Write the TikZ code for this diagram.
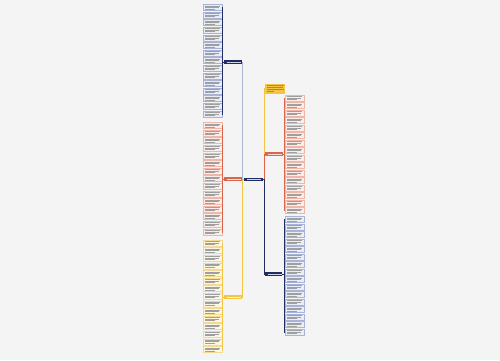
\documentclass[tikz,border=0pt]{standalone}
\usetikzlibrary{positioning}
\definecolor{navy}{HTML}{1F2D62}
\definecolor{bluefill}{HTML}{E8ECF6}
\definecolor{blueline}{HTML}{A9B3D6}
\definecolor{redmain}{HTML}{D9654A}
\definecolor{redfill}{HTML}{FCEBE6}
\definecolor{redline}{HTML}{EFB7AA}
\definecolor{yelmain}{HTML}{F4C443}
\definecolor{yelfill}{HTML}{FDF7E1}
\definecolor{yelline}{HTML}{F3DA92}
\definecolor{bgcol}{HTML}{F4F4F4}
\tikzset{
  leaf/.style={minimum width=0.38cm, minimum height=0.12cm, inner sep=0pt, line width=0.25pt,
    path picture={\foreach \k/\w in {1/0.92,2/0.85,3/0.6}
      {\draw[gray!75, line width=0.4pt] ([xshift=1pt,yshift=-\k*0.85pt]path picture bounding box.north west) -- ++(\w*0.33cm,0);}}},
  bleaf/.style={leaf, draw=blueline, fill=bluefill},
  rleaf/.style={leaf, draw=redline, fill=redfill},
  yleaf/.style={leaf, draw=yelline, fill=yelfill},
  branch/.style={minimum width=0.36cm, minimum height=0.065cm, inner sep=0pt, fill=#1,
    path picture={\draw[white!80!#1, line width=0.35pt] ([xshift=1.5pt]path picture bounding box.west) -- ++(0.28cm,0);}},
  tie/.style={line width=0.4pt}
}
\begin{document}
\begin{tikzpicture}[x=0.02cm,y=-0.02cm]
\useasboundingbox[fill=bgcol] (0,0) rectangle (500,360);
% root
\node[branch=navy, minimum width=0.38cm, minimum height=0.07cm] (root) at (253.5,179.5) {};
% main branches
\node[branch=navy] (lbl) at (233,62) {};
\node[branch=redmain] (lrd) at (233,179) {};
\node[branch=yelmain] (lyl) at (233,297) {};
\node[branch=redmain] (rrd) at (274,154) {};
\node[branch=navy, minimum width=0.34cm] (rbl) at (273.5,274) {};
\node[fill=yelmain, minimum width=0.40cm, minimum height=0.2cm, inner sep=0pt,
  path picture={\foreach \k/\w in {1/0.95,2/0.9,3/0.95,4/0.4}
    {\draw[black!45, line width=0.35pt] ([xshift=1pt,yshift=-\k*1.1pt]path picture bounding box.north west) -- ++(\w*0.36cm,0);}}]
  (ryl) at (275,88.5) {};
% leaves
\foreach \i in {0,...,14}
  \node[bleaf] (lb\i) at (212.5,{7.5+\i*7.6}) {};
\foreach \i in {0,...,14}
  \node[rleaf] (lr\i) at (212.5,{125.5+\i*7.6}) {};
\foreach \i in {0,...,14}
  \node[yleaf] (ly\i) at (212.5,{243+\i*7.6}) {};
\foreach \i in {0,...,15}
  \node[rleaf] (rr\i) at (295,{98+\i*7.5}) {};
\foreach \i in {0,...,15}
  \node[bleaf] (rb\i) at (295,{219.5+\i*7.5}) {};
% connectors
\draw[tie, blueline] (root.west) -- ++(-1,0) |- (lbl.east);
\draw[tie, redmain] (root.west) -- ++(-1,0) |- (lrd.east);
\draw[tie, yelmain] (root.west) -- ++(-1,0) |- (lyl.east);
\draw[tie, yelmain] (root.east) -- ++(1,0) |- (ryl.west);
\draw[tie, redmain] (root.east) -- ++(1,0) |- (rrd.west);
\draw[tie, navy] (root.east) -- ++(1,0) |- (rbl.west);
\foreach \i in {0,...,14}{
  \draw[tie, navy] (lbl.west) -- ++(-1,0) |- (lb\i.east);
  \draw[tie, redmain] (lrd.west) -- ++(-1,0) |- (lr\i.east);
  \draw[tie, yelmain] (lyl.west) -- ++(-1,0) |- (ly\i.east);
}
\foreach \i in {0,...,15}{
  \draw[tie, redmain] (rrd.east) -- ++(1,0) |- (rr\i.west);
  \draw[tie, navy] (rbl.east) -- ++(1.5,0) |- (rb\i.west);
}
\end{tikzpicture}
\end{document}
